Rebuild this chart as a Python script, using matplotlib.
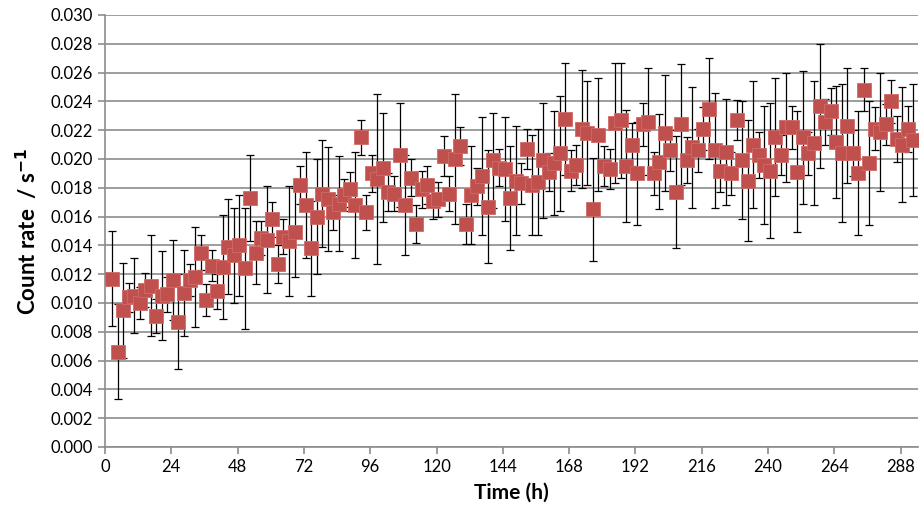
import numpy as np
import matplotlib
matplotlib.use("Agg")
from matplotlib import pyplot as plt

# sampling time of each bin (2 h bins)
hours = np.arange(2.6, 293, 2.0)

count_rate = [
    0.0117, 0.0066, 0.0095, 0.0104, 0.0105, 0.0100, 0.0109, 0.0112, 0.0091, 0.0105,
    0.0106, 0.0116, 0.0087, 0.0107, 0.0116, 0.0118, 0.0135, 0.0102, 0.0126, 0.0108,
    0.0125, 0.0139, 0.0133, 0.0140, 0.0124, 0.0173, 0.0135, 0.0145, 0.0144, 0.0158,
    0.0127, 0.0146, 0.0143, 0.0149, 0.0182, 0.0168, 0.0138, 0.0160, 0.0176, 0.0172,
    0.0163, 0.0169, 0.0175, 0.0179, 0.0168, 0.0215, 0.0163, 0.0190, 0.0186, 0.0194,
    0.0177, 0.0176, 0.0203, 0.0168, 0.0187, 0.0155, 0.0179, 0.0182, 0.0171, 0.0172,
    0.0202, 0.0176, 0.0200, 0.0209, 0.0155, 0.0175, 0.0181, 0.0188, 0.0167, 0.0199,
    0.0194, 0.0193, 0.0173, 0.0185, 0.0183, 0.0207, 0.0182, 0.0184, 0.0199, 0.0191,
    0.0197, 0.0204, 0.0228, 0.0192, 0.0196, 0.0221, 0.0218, 0.0165, 0.0217, 0.0195,
    0.0193, 0.0225, 0.0227, 0.0195, 0.0210, 0.0190, 0.0224, 0.0226, 0.0190, 0.0198,
    0.0218, 0.0206, 0.0177, 0.0224, 0.0199, 0.0208, 0.0206, 0.0221, 0.0235, 0.0206,
    0.0192, 0.0205, 0.0190, 0.0227, 0.0199, 0.0185, 0.0210, 0.0203, 0.0196, 0.0192,
    0.0215, 0.0203, 0.0222, 0.0222, 0.0191, 0.0215, 0.0204, 0.0211, 0.0237, 0.0226,
    0.0233, 0.0212, 0.0204, 0.0223, 0.0204, 0.0190, 0.0248, 0.0197, 0.0221, 0.0219,
    0.0224, 0.0240, 0.0214, 0.0210, 0.0221, 0.0213,
]

rate_err = [
    0.0033, 0.0033, 0.0033, 0.0010, 0.0026, 0.0011, 0.0012, 0.0035, 0.0012, 0.0031,
    0.0012, 0.0028, 0.0033, 0.0030, 0.0011, 0.0035, 0.0012, 0.0011, 0.0011, 0.0012,
    0.0036, 0.0033, 0.0033, 0.0035, 0.0042, 0.0030, 0.0022, 0.0012, 0.0037, 0.0012,
    0.0013, 0.0012, 0.0038, 0.0031, 0.0013, 0.0037, 0.0033, 0.0040, 0.0037, 0.0036,
    0.0012, 0.0033, 0.0011, 0.0012, 0.0037, 0.0012, 0.0012, 0.0013, 0.0059, 0.0038,
    0.0013, 0.0012, 0.0036, 0.0035, 0.0013, 0.0013, 0.0013, 0.0013, 0.0013, 0.0012,
    0.0014, 0.0012, 0.0045, 0.0013, 0.0014, 0.0034, 0.0013, 0.0041, 0.0039, 0.0033,
    0.0013, 0.0036, 0.0036, 0.0038, 0.0014, 0.0014, 0.0035, 0.0037, 0.0040, 0.0013,
    0.0036, 0.0040, 0.0039, 0.0014, 0.0014, 0.0041, 0.0036, 0.0036, 0.0039, 0.0014,
    0.0014, 0.0042, 0.0040, 0.0039, 0.0015, 0.0036, 0.0015, 0.0037, 0.0015, 0.0033,
    0.0040, 0.0014, 0.0039, 0.0042, 0.0016, 0.0042, 0.0015, 0.0015, 0.0035, 0.0040,
    0.0015, 0.0037, 0.0015, 0.0014, 0.0041, 0.0042, 0.0044, 0.0016, 0.0041, 0.0047,
    0.0041, 0.0014, 0.0038, 0.0015, 0.0042, 0.0046, 0.0015, 0.0043, 0.0043, 0.0016,
    0.0016, 0.0039, 0.0048, 0.0040, 0.0016, 0.0043, 0.0015, 0.0043, 0.0015, 0.0041,
    0.0014, 0.0015, 0.0016, 0.0040, 0.0016, 0.0039,
]

x_ticks = np.arange(0, 289, 24)
y_ticks = np.arange(0, 0.0301, 0.002)

plt.rcParams["font.family"] = ["Lato", "DejaVu Sans"]
fig = plt.figure(figsize=(9.21, 5.22), dpi=100)
ax = fig.add_axes([0.114, 0.1437, 0.8826, 0.8276])

grid_col = "#8c8c8c"
ax.errorbar(hours, count_rate, yerr=rate_err, fmt="none", ecolor="black",
            elinewidth=0.9, capsize=3, capthick=0.9, zorder=2)
ax.plot(hours, count_rate, linestyle="none", marker="s", markersize=9.4,
        color="#C0504D", markeredgecolor="#D06A67", markeredgewidth=0.6, zorder=3)

ax.set_xlim(0, 294.2)
ax.set_ylim(0, 0.030)
ax.set_xticks(x_ticks)
ax.set_yticks(y_ticks)
ax.set_yticklabels(["%.3f" % v for v in y_ticks])
ax.yaxis.grid(True, color=grid_col, linewidth=1.2)
ax.set_axisbelow(True)

for s in ["top", "right"]:
    ax.spines[s].set_visible(False)
for s in ["left", "bottom"]:
    ax.spines[s].set_color(grid_col)
    ax.spines[s].set_linewidth(1.2)
ax.tick_params(axis="both", colors=grid_col, length=5, width=1.2, labelsize=12,
               labelcolor="black")
ax.tick_params(axis="x", pad=4)

ax.set_xlabel("Time (h)", fontsize=15, fontweight="bold", labelpad=5)
ax.set_ylabel("Count rate  / s$^{\\mathbf{-1}}$", fontsize=16, fontweight="bold", labelpad=8)

fig.savefig("out.png", dpi=100)
